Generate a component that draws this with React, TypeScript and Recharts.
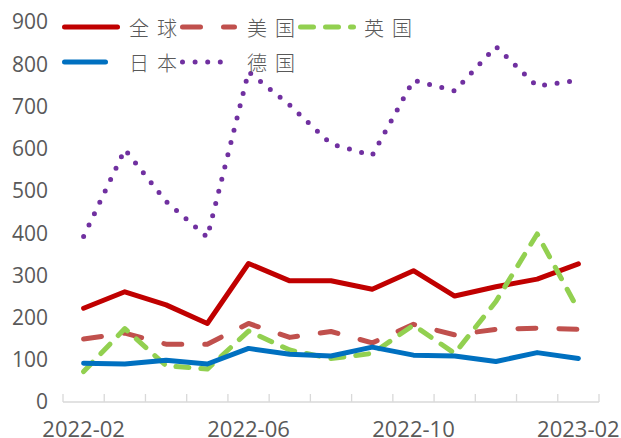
import { Line, LineChart, XAxis, YAxis } from 'recharts';

const MONTHS = [
  '2022-02', '2022-03', '2022-04', '2022-05', '2022-06', '2022-07', '2022-08',
  '2022-09', '2022-10', '2022-11', '2022-12', '2023-01', '2023-02',
];
const LABELED_MONTHS = ['2022-02', '2022-06', '2022-10', '2023-02'];
const Y_TICKS = [0, 100, 200, 300, 400, 500, 600, 700, 800, 900];

const GLOBAL = [222, 261, 230, 186, 328, 287, 287, 267, 311, 251, 273, 291, 327];
const US = [149, 163, 137, 137, 186, 153, 167, 140, 184, 159, 172, 175, 172];
const UK = [72, 174, 86, 78, 168, 123, 103, 115, 182, 115, 238, 398, 218];
const JAPAN = [92, 90, 99, 90, 127, 113, 109, 130, 111, 109, 96, 117, 103];
const GERMANY = [392, 598, 475, 390, 782, 703, 611, 584, 762, 737, 842, 748, 762];

const SERIES_NAMES = ['全球', '美国', '英国', '日本', '德国'];

const data = MONTHS.map((m, i) => ({
  month: m,
  global: GLOBAL[i],
  us: US[i],
  uk: UK[i],
  japan: JAPAN[i],
  germany: GERMANY[i],
}));

const W = 621;
const H = 438;
const PLOT_LEFT = 63;
const PLOT_RIGHT = 599;
const STEP = (PLOT_RIGHT - PLOT_LEFT) / MONTHS.length;
const TEXT = '#595959';
const AXIS = '#d9d9d9';

const STYLE = {
  global: { stroke: '#C00000', dash: undefined as string | undefined },
  us: { stroke: '#C0504D', dash: '18 23' },
  uk: { stroke: '#92D050', dash: '13 12' },
  japan: { stroke: '#0070C0', dash: undefined as string | undefined },
  germany: { stroke: '#7030A0', dash: '0 12.6' },
};

function MonthTick(props: any) {
  const { x, y, payload } = props;
  const idx = payload?.index ?? props.index ?? 0;
  const left = x - STEP / 2;
  return (
    <g>
      <line x1={left} x2={left} y1={y} y2={y - 8} stroke={AXIS} strokeWidth={1.3} />
      {idx === MONTHS.length - 1 && (
        <line x1={x + STEP / 2} x2={x + STEP / 2} y1={y} y2={y - 8} stroke={AXIS} strokeWidth={1.3} />
      )}
      {LABELED_MONTHS.includes(payload.value) && (
        <text x={x} y={y + 35} textAnchor="middle" fill={TEXT} fontSize={22} fontFamily="'Open Sans', sans-serif">
          {payload.value}
        </text>
      )}
    </g>
  );
}

const LEGEND_LAYOUT = [
  { key: 'global', left: 62, top: 27, len: 58, text: 129 },
  { key: 'us', left: 180, top: 27, len: 57, text: 247 },
  { key: 'uk', left: 298, top: 27, len: 58, text: 364 },
  { key: 'japan', left: 62, top: 62, len: 46, text: 129 },
  { key: 'germany', left: 180, top: 62, len: 52, text: 247 },
] as const;

function LegendBlock() {
  return (
    <svg width={W} height={80} style={{ position: 'absolute', left: 0, top: 0, pointerEvents: 'none' }}>
      {LEGEND_LAYOUT.map((it, i) => {
        const s = STYLE[it.key];
        return (
          <g key={it.key}>
            <line
              x1={it.left + 2.5}
              x2={it.left + it.len - 2.5}
              y1={it.top}
              y2={it.top}
              stroke={s.stroke}
              strokeWidth={5}
              strokeLinecap="round"
              strokeDasharray={s.dash}
            />
            <text
              x={it.text}
              y={it.top}
              dominantBaseline="central"
              fill={TEXT}
              fontSize={20}
              fontWeight={300}
              letterSpacing={8}
              fontFamily="'Noto Sans CJK SC', sans-serif"
            >
              {SERIES_NAMES[i]}
            </text>
          </g>
        );
      })}
    </svg>
  );
}

export default function App() {
  return (
    <div style={{ position: 'absolute', left: 0, top: 0, width: W, height: H, background: '#fff' }}>
      <LineChart width={W} height={H} data={data} margin={{ top: 22, right: W - PLOT_RIGHT, bottom: 6, left: 0 }}>
        <XAxis
          dataKey="month"
          interval={0}
          height={30}
          padding={{ left: STEP / 2, right: STEP / 2 }}
          axisLine={{ stroke: AXIS, strokeWidth: 1.3 }}
          tickLine={false}
          tickSize={0}
          tickMargin={0}
          tick={<MonthTick />}
        />
        <YAxis
          width={PLOT_LEFT}
          domain={[0, 900]}
          ticks={Y_TICKS}
          interval={0}
          axisLine={false}
          tickLine={false}
          tickSize={0}
          tickMargin={15}
          tick={{ fill: TEXT, fontSize: 21, fontFamily: "'Open Sans', sans-serif" }}
        />
        {(['global', 'us', 'uk', 'japan', 'germany'] as const).map((k) => (
          <Line
            key={k}
            type="linear"
            dataKey={k}
            stroke={STYLE[k].stroke}
            strokeWidth={5}
            strokeDasharray={STYLE[k].dash}
            strokeLinecap="round"
            strokeLinejoin="round"
            dot={false}
            activeDot={false}
            isAnimationActive={false}
          />
        ))}
      </LineChart>
      <LegendBlock />
    </div>
  );
}
